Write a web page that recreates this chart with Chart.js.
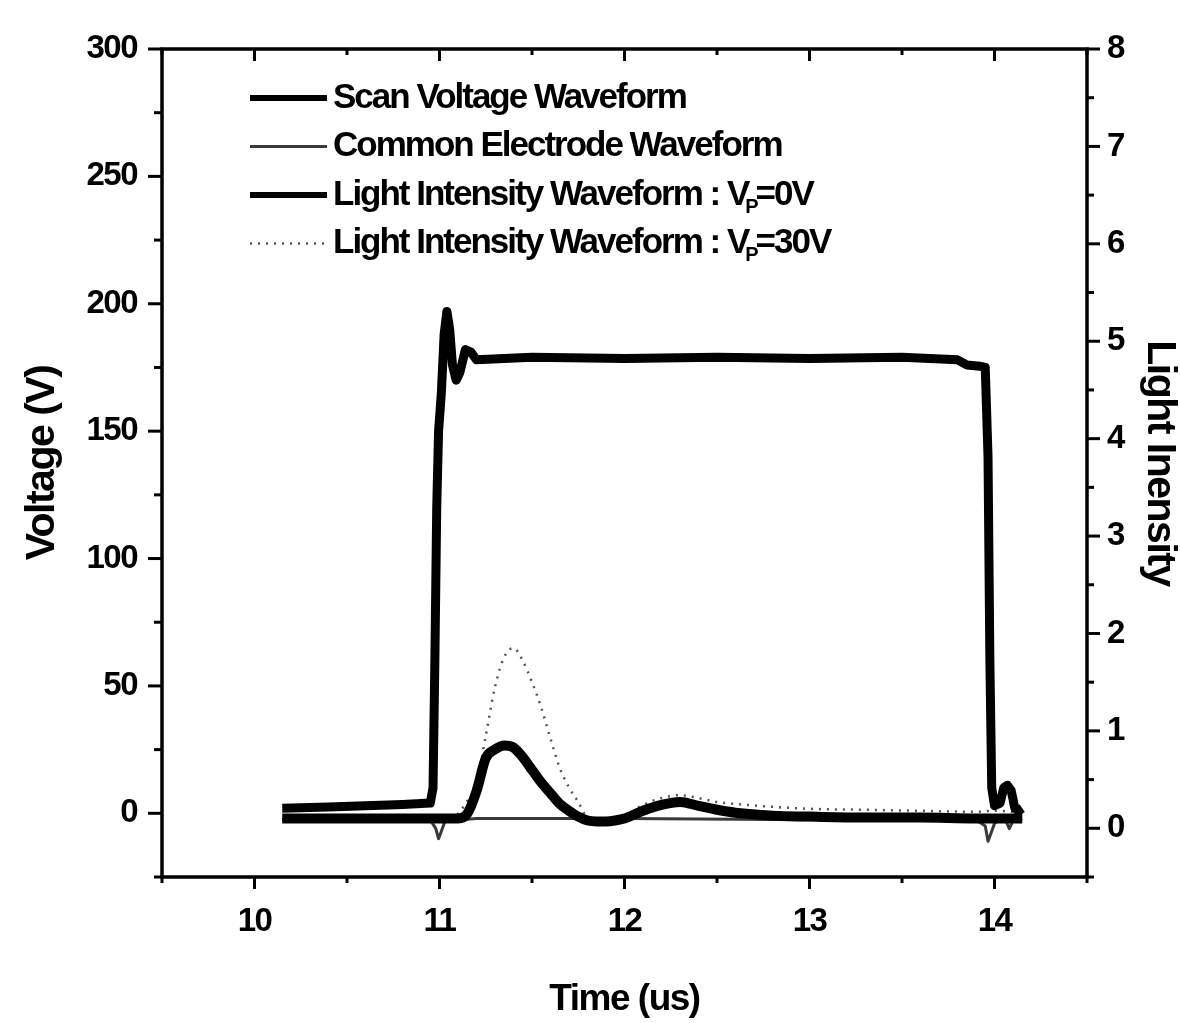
<!DOCTYPE html>
<html>
<head>
<meta charset="utf-8">
<script src="https://cdn.jsdelivr.net/npm/chart.js@4.4.1/dist/chart.umd.min.js"></script>
<style>
    html, body { margin: 0; padding: 0; background: #fff; }
    #wrap { width: 1180px; height: 1023px; }
</style>
</head>
<body>
<div id="wrap"><canvas id="waveform" width="1180" height="1023"></canvas></div>
<script>
// scan voltage, left axis (V)
const scanTime = [10.15, 10.4, 10.6, 10.8, 10.95, 10.965, 10.975, 10.985, 10.995, 11.01, 11.025, 11.04, 11.055, 11.07, 11.09, 11.11, 11.14, 11.17, 11.2, 11.5, 12.0, 12.5, 13.0, 13.5, 13.8, 13.85, 13.92, 13.95, 13.965, 13.975, 13.985, 14.0, 14.03, 14.05, 14.07, 14.09, 14.11, 14.13, 14.15];
const scanVolt = [2.0, 2.5, 3.0, 3.5, 4.0, 10, 60, 120, 150, 165, 188, 197, 190, 176, 170, 173, 182, 181, 178, 179, 178.5, 179, 178.5, 179, 178, 176, 175.5, 175, 140, 60, 10, 3, 4, 10, 11, 9, 2, 1, 2];

// common electrode, left axis (V)
const commonTime = [10.15, 10.5, 10.95, 10.98, 10.995, 11.01, 11.03, 11.2, 12.0, 13.0, 13.9, 13.95, 13.965, 13.98, 14.0, 14.05, 14.08, 14.1, 14.15];
const commonVolt = [-2.5, -2.5, -2.5, -6, -10, -7, -3, -2, -2, -2.5, -2.5, -5, -11, -8, -4, -1, -6, -3, -2];

// light intensity, right axis
const lightTime = [10.15, 10.5, 10.9, 11.05, 11.1, 11.15, 11.2, 11.25, 11.3, 11.35, 11.4, 11.45, 11.5, 11.55, 11.6, 11.65, 11.7, 11.75, 11.8, 11.85, 11.9, 11.95, 12.0, 12.1, 12.2, 12.3, 12.4, 12.5, 12.6, 12.8, 13.0, 13.3, 13.6, 13.9, 14.0, 14.15];
const light0V = [0.1, 0.1, 0.1, 0.1, 0.1, 0.15, 0.38, 0.72, 0.81, 0.85, 0.83, 0.73, 0.6, 0.47, 0.36, 0.25, 0.18, 0.12, 0.08, 0.07, 0.07, 0.08, 0.1, 0.18, 0.24, 0.27, 0.23, 0.19, 0.16, 0.13, 0.12, 0.11, 0.11, 0.1, 0.1, 0.1];
const light30V = [0.1, 0.1, 0.1, 0.1, 0.15, 0.28, 0.45, 0.95, 1.45, 1.76, 1.85, 1.72, 1.5, 1.24, 0.92, 0.62, 0.42, 0.27, 0.1, 0.05, 0.04, 0.07, 0.12, 0.24, 0.31, 0.34, 0.31, 0.27, 0.25, 0.22, 0.2, 0.19, 0.18, 0.17, 0.18, 0.16];

const seriesLabels = ['Scan Voltage Waveform', 'Common Electrode Waveform', 'Light Intensity Waveform : V_P=0V', 'Light Intensity Waveform : V_P=30V'];
const timeTicks = [10, 11, 12, 13, 14];
const voltageTicks = [0, 50, 100, 150, 200, 250, 300];
const intensityTicks = [0, 1, 2, 3, 4, 5, 6, 7, 8];

const FONT = '"Liberation Sans", Arial, sans-serif';

function points(xs, ys) {
    return xs.map(function(x, i) { return { x: x, y: ys[i] }; });
}

// box frame with inner/outer tick marks (major + minor)
const frameTicks = {
    id: 'frameTicks',
    afterDatasetsDraw(chart) {
        const ctx = chart.ctx;
        const a = chart.chartArea;
        const sx = chart.scales.x, sy = chart.scales.y, sy1 = chart.scales.y1;
        function line(x1, y1, x2, y2) {
            ctx.beginPath(); ctx.moveTo(x1, y1); ctx.lineTo(x2, y2); ctx.stroke();
        }
        ctx.save();
        ctx.strokeStyle = '#000';
        ctx.lineWidth = 3.5;
        ctx.strokeRect(a.left, a.top, a.right - a.left, a.bottom - a.top);
        ctx.lineWidth = 3;
        sx.ticks.forEach(function(t) {
            const px = sx.getPixelForValue(t.value);
            const len = timeTicks.includes(t.value) ? 12 : 6;
            line(px, a.bottom, px, a.bottom + len);
            line(px, a.top, px, a.top + len);
        });
        sy.ticks.forEach(function(t) {
            const py = sy.getPixelForValue(t.value);
            const len = voltageTicks.includes(t.value) ? 14 : 8;
            line(a.left - len, py, a.left, py);
        });
        sy1.ticks.forEach(function(t) {
            const py = sy1.getPixelForValue(t.value);
            const len = intensityTicks.includes(t.value) ? 13 : 7;
            line(a.right, py, a.right + len, py);
        });
        ctx.restore();
    }
};

// legend with subscript support (V_P)
const waveLegend = {
    id: 'waveLegend',
    afterDraw(chart) {
        const ctx = chart.ctx;
        ctx.save();
        ctx.letterSpacing = '-2px';
        ctx.textBaseline = 'middle';
        chart.data.datasets.forEach(function(ds, i) {
            const y = 98 + i * 48.5;
            ctx.strokeStyle = ds.borderColor;
            ctx.lineWidth = Math.min(ds.borderWidth, 6);
            ctx.setLineDash(ds.borderDash || []);
            ctx.beginPath(); ctx.moveTo(250, y); ctx.lineTo(327, y); ctx.stroke();
            ctx.setLineDash([]);
            ctx.fillStyle = '#000';
            let x = 333;
            ds.label.split(/_(\w)/).forEach(function(part, k) {
                if (k % 2 === 1) {
                    ctx.font = 'bold 20px ' + FONT;
                    ctx.fillText(part, x - 3, y + 12);
                    x += ctx.measureText(part).width - 4;
                } else {
                    ctx.font = 'bold 35px ' + FONT;
                    ctx.fillText(part, x, y);
                    x += ctx.measureText(part).width;
                }
            });
        });
        ctx.restore();
    }
};

const condensed = {
    id: 'condensed',
    beforeDraw(chart) { chart.ctx.letterSpacing = '-1.5px'; }
};

new Chart(document.getElementById('waveform'), {
    type: 'line',
    data: {
        datasets: [{
            label: seriesLabels[0],
            data: points(scanTime, scanVolt),
            yAxisID: 'y',
            borderColor: '#000',
            borderWidth: 9,
            borderJoinStyle: 'round',
            tension: 0,
            order: 0,
        }, {
            label: seriesLabels[1],
            data: points(commonTime, commonVolt),
            yAxisID: 'y',
            borderColor: '#3a3a3a',
            borderWidth: 3,
            borderJoinStyle: 'round',
            tension: 0,
            order: 5,
        }, {
            label: seriesLabels[2],
            data: points(lightTime, light0V),
            yAxisID: 'y1',
            borderColor: '#000',
            borderWidth: 10,
            borderJoinStyle: 'round',
            cubicInterpolationMode: 'monotone',
            order: 1,
        }, {
            label: seriesLabels[3],
            data: points(lightTime, light30V),
            yAxisID: 'y1',
            borderColor: '#555',
            borderWidth: 2.5,
            borderDash: [2, 6],
            cubicInterpolationMode: 'monotone',
            order: 2,
        }]
    },
    options: {
        responsive: false,
        animation: false,
        devicePixelRatio: 1,
        layout: { padding: { top: 49, left: 0, right: 0, bottom: 0 } },
        elements: { point: { radius: 0 } },
        plugins: {
            legend: { display: false },
            tooltip: { enabled: false },
        },
        scales: {
            x: {
                type: 'linear',
                min: 9.5,
                max: 14.5,
                grid: { display: false, drawTicks: false },
                border: { display: false },
                afterFit: function(scale) { scale.height = 146; },
                ticks: {
                    stepSize: 0.5,
                    autoSkip: false,
                    maxRotation: 0,
                    padding: 25,
                    color: '#000',
                    font: { family: FONT, size: 33, weight: 'bold' },
                    callback: function(v) { return timeTicks.includes(v) ? String(v) : ''; }
                },
                title: {
                    display: true,
                    text: 'Time (us)',
                    color: '#000',
                    font: { family: FONT, size: 37, weight: 'bold', lineHeight: 1 },
                    padding: { top: 0, bottom: 5 }
                }
            },
            y: {
                position: 'left',
                min: -25,
                max: 300,
                grid: { display: false, drawTicks: false },
                border: { display: false },
                afterFit: function(scale) { scale.width = 162; },
                ticks: {
                    stepSize: 25,
                    autoSkip: false,
                    padding: 25,
                    color: '#000',
                    font: { family: FONT, size: 33, weight: 'bold' },
                    callback: function(v) { return voltageTicks.includes(v) ? String(v) : ''; }
                },
                title: {
                    display: true,
                    text: 'Voltage (V)',
                    color: '#000',
                    font: { family: FONT, size: 41, weight: 'bold', lineHeight: 1 },
                    padding: { top: 22, bottom: 0 }
                }
            },
            y1: {
                position: 'right',
                min: -0.5,
                max: 8,
                grid: { display: false, drawTicks: false },
                border: { display: false },
                afterFit: function(scale) { scale.width = 93; },
                ticks: {
                    stepSize: 0.5,
                    autoSkip: false,
                    padding: 20,
                    color: '#000',
                    font: { family: FONT, size: 33, weight: 'bold' },
                    callback: function(v) { return intensityTicks.includes(v) ? String(v) : ''; }
                },
                title: {
                    display: true,
                    text: 'Light Inensity',
                    color: '#000',
                    font: { family: FONT, size: 41, weight: 'bold', lineHeight: 1 },
                    padding: { top: 0, bottom: 0 }
                }
            }
        }
    },
    plugins: [condensed, frameTicks, waveLegend]
});
</script>
</body>
</html>
